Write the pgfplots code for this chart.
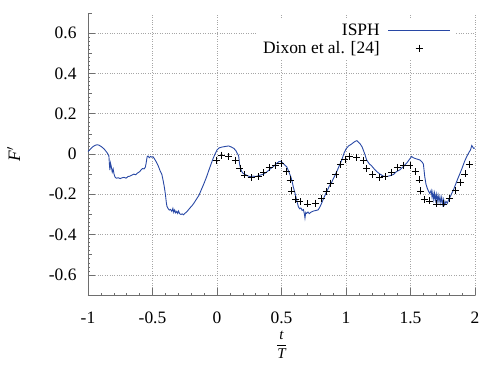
\documentclass[border=0pt]{standalone}
\usepackage{fontspec}
\setmainfont{Liberation Serif}
\usepackage{pgfplots}
\pgfplotsset{compat=1.18}
\definecolor{isph}{RGB}{40,72,165}
\definecolor{axgray}{RGB}{110,110,110}
\begin{document}
\begin{tikzpicture}
\useasboundingbox (-88bp,-72bp) rectangle (392bp,295bp);
\begin{axis}[
  scale only axis, width=387bp, height=282bp,
  xmin=-1, xmax=2, ymin=-0.7, ymax=0.7,
  axis lines=left, axis line style={-, axgray, line width=0.6pt},
  xtick={-1,-0.5,...,2}, ytick={-0.6,-0.4,...,0.6},
  yticklabels={-0.6,-0.4,-0.2,0,0.2,0.4,0.6},
  xticklabels={-1,-0.5,0,0.5,1,1.5,2},
  minor x tick num=4, minor y tick num=9,
  tick align=inside,
  major tick length=7bp, minor tick length=2bp,
  every tick/.style={axgray, line width=0.5pt},
  extra y ticks={-0.7,-0.5,-0.3,-0.1,0.1,0.3,0.5,0.7},
  extra y tick labels={},
  extra y tick style={grid=none, major tick length=4bp},
  grid=major,
  major grid style={gray!70, dotted, line width=0.6pt},
  tick label style={font=\fontsize{17.5}{19}\selectfont, black},
  /pgf/number format/assume math mode=true,
  yticklabel style={xshift=-8bp},
  xticklabel style={yshift=-13bp},
  ylabel style={font=\fontsize{17.5}{19}\selectfont},
  xlabel style={font=\fontsize{15}{17}\selectfont, yshift=-4bp, inner sep=0pt},
  xlabel={$\displaystyle\frac{\textit{t}}{\textit{T}}$},
  ylabel={\textit{F}$'$},
  ylabel style={yshift=22bp},
  legend style={fill=white, draw=none, at={(0.948,0.975)}, anchor=north east,
    font=\fontsize{17.5}{19}\selectfont, legend cell align=right, row sep=0bp,
    column sep=6bp, inner xsep=4bp, inner ysep=2bp},
  legend plot pos=right,
  legend image code/.code={\draw[mark repeat=2,mark phase=2,#1] plot coordinates {(0bp,0bp)(31bp,0bp)(62bp,0bp)};},
]
\addplot[isph, line width=0.9pt, no markers] coordinates {
(-1.000,0.012) (-0.985,0.022) (-0.965,0.035) (-0.945,0.043) (-0.930,0.046) (-0.915,0.044)
(-0.895,0.036) (-0.875,0.025) (-0.860,0.013) (-0.845,0.000) (-0.838,-0.010) (-0.833,-0.060)
(-0.830,-0.080) (-0.826,-0.045) (-0.820,-0.060) (-0.812,-0.090) (-0.805,-0.075) (-0.798,-0.100)
(-0.790,-0.115) (-0.780,-0.120) (-0.765,-0.118) (-0.750,-0.122) (-0.735,-0.118) (-0.720,-0.116)
(-0.705,-0.120) (-0.690,-0.112) (-0.675,-0.110) (-0.660,-0.105) (-0.645,-0.100) (-0.630,-0.103)
(-0.615,-0.094) (-0.600,-0.088) (-0.590,-0.080) (-0.578,-0.072) (-0.565,-0.074) (-0.555,-0.065)
(-0.548,-0.040) (-0.542,-0.015) (-0.535,-0.010) (-0.525,-0.018) (-0.515,-0.012) (-0.505,-0.016)
(-0.495,-0.014) (-0.485,-0.024) (-0.470,-0.040) (-0.455,-0.060) (-0.440,-0.085) (-0.428,-0.100)
(-0.418,-0.130) (-0.408,-0.165) (-0.400,-0.200) (-0.393,-0.240) (-0.388,-0.260) (-0.380,-0.270)
(-0.370,-0.278) (-0.360,-0.275) (-0.350,-0.285) (-0.342,-0.270) (-0.335,-0.290) (-0.328,-0.278)
(-0.320,-0.292) (-0.312,-0.285) (-0.305,-0.295) (-0.298,-0.283) (-0.290,-0.296) (-0.280,-0.300)
(-0.270,-0.297) (-0.260,-0.302) (-0.250,-0.295) (-0.240,-0.290) (-0.225,-0.280) (-0.210,-0.268)
(-0.195,-0.258) (-0.180,-0.245) (-0.160,-0.225) (-0.140,-0.205) (-0.120,-0.175) (-0.100,-0.145)
(-0.080,-0.112) (-0.060,-0.075) (-0.045,-0.048) (-0.030,-0.022) (-0.015,0.000) (0.000,0.020)
(0.015,0.030) (0.030,0.033) (0.050,0.036) (0.070,0.038) (0.090,0.040) (0.110,0.035)
(0.130,0.028) (0.145,0.018) (0.160,0.000) (0.168,-0.010) (0.175,-0.050) (0.182,-0.070)
(0.190,-0.085) (0.200,-0.095) (0.215,-0.100) (0.235,-0.108) (0.255,-0.112) (0.280,-0.110)
(0.300,-0.112) (0.320,-0.108) (0.340,-0.104) (0.360,-0.100) (0.385,-0.090) (0.410,-0.075)
(0.436,-0.063) (0.460,-0.048) (0.480,-0.038) (0.495,-0.036) (0.510,-0.045) (0.525,-0.055)
(0.540,-0.063) (0.555,-0.085) (0.570,-0.110) (0.580,-0.130) (0.592,-0.165) (0.605,-0.195)
(0.618,-0.230) (0.630,-0.260) (0.640,-0.272) (0.650,-0.268) (0.660,-0.280) (0.670,-0.276)
(0.678,-0.300) (0.682,-0.318) (0.688,-0.290) (0.695,-0.295) (0.705,-0.288) (0.715,-0.296)
(0.725,-0.290) (0.740,-0.285) (0.755,-0.282) (0.770,-0.280) (0.785,-0.277) (0.800,-0.260)
(0.812,-0.243) (0.830,-0.215) (0.850,-0.187) (0.870,-0.160) (0.889,-0.140) (0.910,-0.112)
(0.928,-0.088) (0.948,-0.058) (0.967,-0.030) (0.985,0.005) (1.000,0.025) (1.020,0.040)
(1.040,0.048) (1.060,0.058) (1.075,0.064) (1.085,0.066) (1.095,0.060) (1.110,0.050)
(1.125,0.035) (1.135,0.018) (1.148,-0.005) (1.160,-0.030) (1.180,-0.048) (1.200,-0.060)
(1.220,-0.075) (1.240,-0.088) (1.264,-0.100) (1.290,-0.110) (1.315,-0.112) (1.340,-0.108)
(1.367,-0.102) (1.390,-0.088) (1.419,-0.078) (1.445,-0.062) (1.471,-0.045) (1.490,-0.028)
(1.509,-0.012) (1.520,-0.018) (1.535,-0.022) (1.555,-0.026) (1.574,-0.030) (1.590,-0.040)
(1.600,-0.050) (1.610,-0.110) (1.620,-0.150) (1.630,-0.170) (1.640,-0.185) (1.650,-0.196)
(1.660,-0.180) (1.667,-0.215) (1.673,-0.190) (1.680,-0.225) (1.686,-0.195) (1.693,-0.230)
(1.700,-0.200) (1.707,-0.235) (1.714,-0.205) (1.721,-0.238) (1.728,-0.212) (1.735,-0.242)
(1.742,-0.215) (1.750,-0.250) (1.757,-0.225) (1.765,-0.252) (1.775,-0.235) (1.785,-0.245)
(1.795,-0.228) (1.806,-0.215) (1.820,-0.195) (1.835,-0.175) (1.850,-0.150) (1.865,-0.125)
(1.884,-0.096) (1.900,-0.070) (1.922,-0.032) (1.940,-0.008) (1.955,0.010) (1.965,0.020)
(1.975,0.042) (1.982,0.035) (1.990,0.028) (2.000,0.030)
};
\addlegendentry{ISPH}
\addplot[black, only marks, mark=+, mark size=3.5bp, line width=0.6pt] coordinates {
(-0.002,-0.030) (0.036,-0.005) (0.088,-0.013) (0.140,-0.030) (0.178,-0.071) (0.212,-0.104)
(0.264,-0.117) (0.320,-0.112) (0.359,-0.091) (0.405,-0.066) (0.453,-0.055) (0.496,-0.047)
(0.540,-0.088) (0.566,-0.129) (0.579,-0.183) (0.609,-0.225) (0.643,-0.236) (0.700,-0.248)
(0.760,-0.244) (0.812,-0.220) (0.845,-0.187) (0.876,-0.145) (0.922,-0.101) (0.959,-0.051)
(0.992,-0.026) (1.026,-0.010) (1.083,-0.016) (1.134,-0.030) (1.160,-0.071) (1.207,-0.101)
(1.258,-0.117) (1.302,-0.112) (1.354,-0.091) (1.398,-0.066) (1.444,-0.055) (1.496,-0.055)
(1.535,-0.088) (1.566,-0.129) (1.579,-0.183) (1.605,-0.225) (1.646,-0.233) (1.703,-0.248)
(1.754,-0.248) (1.801,-0.220) (1.845,-0.182) (1.884,-0.140) (1.922,-0.099) (1.956,-0.051)
};
\addlegendentry{Dixon et al. [24]}
\end{axis}
\end{tikzpicture}
\end{document}
